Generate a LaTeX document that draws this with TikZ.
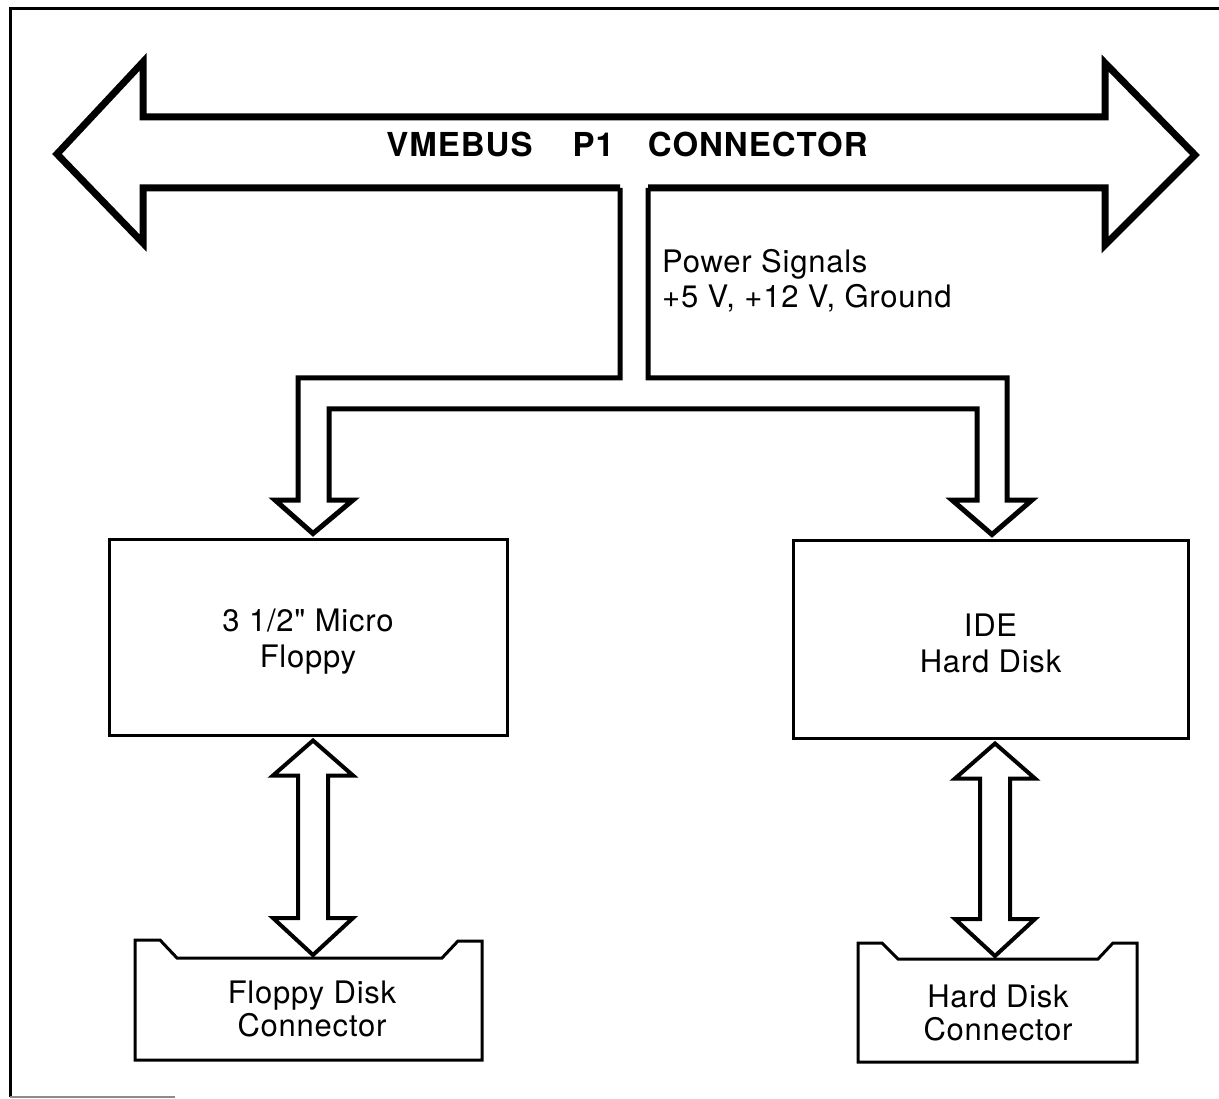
\documentclass[tikz,border=0pt]{standalone}
\usepackage{fontspec}
\setmainfont{TeX Gyre Heros}[Ligatures=TeXOff,LetterSpace=2.5]
\newfontfamily\titlefont{TeX Gyre Heros}[Ligatures=TeXOff,LetterSpace=3]
\usetikzlibrary{calc}
\newcommand\upstrut{\rule{0pt}{32pt}}
\begin{document}
\begin{tikzpicture}[x=1pt,y=-1pt,line join=miter,
  busline/.style={line width=7pt},
  feedline/.style={line width=5pt},
  biline/.style={line width=4pt},
  connline/.style={line width=3pt},
  unit/.style={draw,line width=3pt,inner sep=0pt,align=center,
    font=\fontsize{31}{36}\selectfont},
  conn/.style={inner sep=0pt,align=center,font=\fontsize{31}{33}\selectfont},
  title/.style={inner sep=0pt,font=\titlefont\fontsize{33}{36}\selectfont\bfseries},
  note/.style={inner sep=0pt,align=left,font=\fontsize{31}{35}\selectfont}]
\useasboundingbox (0,0) rectangle (1219,1099);

% page frame
\draw[line width=3pt] (10,1097) -- (10,9) -- (1219,9);
\draw[line width=1.5pt,black!45] (10,1097) -- (175,1097);

% labels and units
\node[title,anchor=base] (bus) at (627,157)
  {VMEBUS\hspace{40pt}P1\hspace{34pt}CONNECTOR};
\node[note,anchor=west] (pwr) at (662,281)
  {Power Signals\\+5 V, +12 V, Ground};
\node[unit,minimum width=398pt,minimum height=196pt] (fd) at (308,637)
  {\upstrut 3 1/2" Micro\\Floppy};
\node[unit,minimum width=395pt,minimum height=198pt] (hd) at (990.5,639)
  {\upstrut IDE\\Hard Disk};
\node[conn] (fdc) at (312,1009) {Floppy Disk\\Connector};
\node[conn] (hdc) at (998,1013) {Hard Disk\\Connector};

% connector outlines with keyed notches
\draw[connline] ($(fdc.center)+(-177,-69)$) -- ++(25,0) -- ++(17,18)
  -- ++(265,0) -- ++(16,-17) -- ++(24,0) -- ++(0,119) -- ++(-347,0) -- cycle;
\draw[connline] ($(hdc.center)+(-140,-70)$) -- ++(24,0) -- ++(16,16)
  -- ++(200,0) -- ++(15,-16) -- ++(24,0) -- ++(0,119) -- ++(-279,0) -- cycle;

% bus arrow
\draw[busline] (620,188) -- (143,188) -- (143,243) -- (57,154) -- (143,62)
  -- (143,117) -- (1105,117) -- (1105,63) -- (1195,155) -- (1105,245)
  -- (1105,188) -- (648,188);

% power feed branching down to both drives
\coordinate (fdx) at (313,0);
\coordinate (hdx) at (992,0);
\coordinate (fdtip) at ($(fd.north -| fdx)+(0,-4)$);
\coordinate (hdtip) at ($(hd.north -| hdx)+(0,-4)$);
\draw[feedline] (648,188) -- (648,378) -- (1007,378) -- (1007,500)
  -- (1032,500) -- (hdtip) -- (952,500) -- (977,500) -- (977,409)
  -- (329,409) -- (329,500) -- (353,500) -- (fdtip) -- (275,500)
  -- (298,500) -- (298,378) -- (620,378) -- (620,188);

% data links between drives and their connectors
\newcommand\biarrow[2]{%
  \draw[biline] (#1) -- ($(#1)+(40,35)$) -- ($(#1)+(15,35)$)
    -- ($(#2)+(15,-37)$) -- ($(#2)+(40,-37)$) -- (#2)
    -- ($(#2)+(-40,-37)$) -- ($(#2)+(-15,-37)$)
    -- ($(#1)+(-15,35)$) -- ($(#1)+(-40,35)$) -- cycle;}
\coordinate (fdS) at ($(fd.south -| fdx)+(0,4)$);
\coordinate (fdcN) at ($(fdc.center)+(1,-54)$);
\coordinate (hdx2) at (995,0);
\coordinate (hdS) at ($(hd.south -| hdx2)+(0,4)$);
\coordinate (hdcN) at ($(hdc.center)+(-3,-57)$);
\biarrow{fdS}{fdcN}
\biarrow{hdS}{hdcN}
\end{tikzpicture}
\end{document}
